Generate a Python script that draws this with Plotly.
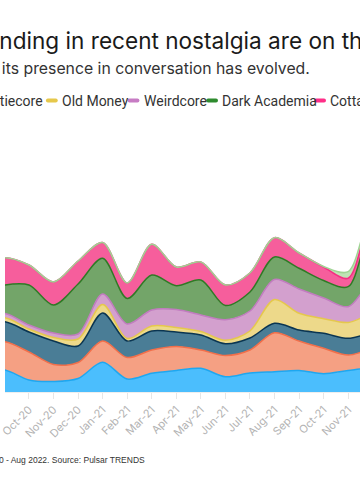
import plotly.graph_objects as go

# ---------------- data ----------------
months = ["Aug-20", "Sep-20", "Oct-20", "Nov-20", "Dec-20", "Jan-21", "Feb-21",
          "Mar-21", "Apr-21", "May-21", "Jun-21", "Jul-21", "Aug-21", "Sep-21",
          "Oct-21", "Nov-21", "Dec-21", "Jan-22"]

series_names = ["Y2K", "Indie Sleaze", "Cutiecore", "Old Money", "Weirdcore",
                "Dark Academia", "Cottagecore", "Light Academia"]

y2k =           [20, 22, 12, 10.5, 13.5, 29.7, 13, 18.7, 21.5, 23.7, 15.3, 19, 20.3, 21.5, 18.3, 21.5, 24, 22]
indie_sleaze =  [26, 28.3, 28, 17, 16, 21.3, 21.5, 23.3, 24, 18.3, 21.2, 23, 38.9, 29.5, 25.4, 15.5, 19, 20]
cutiecore =     [20, 20, 20, 23.5, 16.5, 28, 16.5, 19, 14.5, 15, 11.7, 12, 9.5, 11, 15, 16.7, 16, 16]
old_money =     [4, 4, 3, 3.5, 7, 8.5, 2.5, 5, 4.5, 3.5, 3.5, 7, 23.8, 16.7, 14.6, 15.8, 19, 17]
weirdcore =     [4, 4.4, 4, 4.5, 5, 10.5, 14.5, 16, 18, 16.5, 20.6, 20, 20, 24.3, 20.7, 15.8, 32, 25]
dark_academia = [26, 28.3, 40, 28, 50, 35.7, 25.5, 35, 23.8, 35, 14.2, 19, 22.5, 20.7, 17.5, 20, 54, 35]
cottagecore =   [26, 27.3, 20, 23, 23, 15.8, 15.5, 30.7, 18.7, 18, 20.5, 19, 19.3, 15.3, 13.5, 8.4, 10, 15]
light_academia = [0, 0, 0, 0, 0, 0, 0, 0, 0, 0, 0, 0, 0, 0, 0.5, 6.6, 5, 2]

series_values = [y2k, indie_sleaze, cutiecore, old_money, weirdcore,
                 dark_academia, cottagecore, light_academia]

fill_colors = ["#4BBEFD", "#F5A083", "#4A7D96", "#EDD98A", "#D3A0CE",
               "#73A569", "#F65E9C", "#BFE3B5"]
line_colors = ["#1EA7F0", "#F26F4A", "#0A3552", "#E5C84C", "#C27CC0",
               "#2F7A25", "#F52E83", "#A0D494"]
legend_colors = ["#4BBEFD", "#F26F4A", "#0A3552", "#E6C84B", "#C77CC4",
                 "#2E8B2E", "#FF2E88", "#A0D494"]

title_text = "Aesthetics trending in recent nostalgia are on the rise"
subtitle_text = "See how each aesthetic and its presence in conversation has evolved."
footer_text = "Data: Aug 2020 - Aug 2022. Source: Pulsar TRENDS"

# ---------------- layout helpers ----------------
W, H = 360, 500
TOP, BOTTOM = 120, 392


def px_x(px):
    return px / W


def px_y(py):
    return (BOTTOM - py) / (BOTTOM - TOP)


def pill_path(x0, x1, yc, h):
    """Rounded bar (legend swatch) as an SVG path in paper coordinates."""
    r = h / 2
    pts = [
        ("M", x0 + r, yc - r), ("L", x1 - r, yc - r),
        ("Q", x1, yc - r, x1, yc), ("Q", x1, yc + r, x1 - r, yc + r),
        ("L", x0 + r, yc + r), ("Q", x0, yc + r, x0, yc), ("Q", x0, yc - r, x0 + r, yc - r),
    ]
    out = []
    for p in pts:
        cmd, coords = p[0], p[1:]
        parts = []
        for j in range(0, len(coords), 2):
            parts.append(f"{px_x(coords[j]):.5f},{px_y(coords[j + 1]):.5f}")
        out.append(cmd + " " + " ".join(parts))
    return " ".join(out) + " Z"


x_idx = list(range(len(months)))

fig = go.Figure()
for name, vals, fc, lc in zip(series_names, series_values, fill_colors, line_colors):
    fig.add_trace(go.Scatter(
        x=x_idx, y=vals, name=name, mode="lines", stackgroup="one",
        line=dict(color=lc, width=1.5, shape="spline", smoothing=0.9),
        fillcolor=fc, showlegend=False, hoverinfo="skip"))

FONT = "Inter, Noto Sans, sans-serif"
LEG_FONT = "Roboto, Inter, sans-serif"

annotations = [
    dict(text=title_text, x=px_x(-157), y=px_y(41), xanchor="left", yanchor="middle",
         font=dict(family=FONT, size=22.6, color="#1a1a1a")),
    dict(text=subtitle_text, x=px_x(-223.5), y=px_y(68), xanchor="left", yanchor="middle",
         font=dict(family=FONT, size=15.8, color="#333333")),
    dict(text=footer_text, x=px_x(143.5), y=px_y(460), xanchor="right", yanchor="middle",
         font=dict(family="Liberation Sans, Arial, sans-serif", size=8.5, color="#333333")),
]

# legend (manual, as in the original: short rounded bar followed by the label)
LEG_SIZE = 14
legend_swatch_x = [-250, -170, -60, 41.5, 124.3, 204.0, 313.5, 420]
shapes = []
for i, (name, col, sx) in enumerate(zip(series_names, legend_colors, legend_swatch_x)):
    shapes.append(dict(type="path", xref="paper", yref="paper",
                       path=pill_path(sx, sx + 12, 100.6, 4),
                       fillcolor=col, line=dict(width=0), layer="above"))
    if name == "Cutiecore":
        annotations.append(dict(text=name, x=px_x(legend_swatch_x[i + 1] - 0.8), y=px_y(101.3),
                                xanchor="right", yanchor="middle",
                                font=dict(family=LEG_FONT, size=LEG_SIZE, color="#333333")))
    else:
        annotations.append(dict(text=name, x=px_x(sx + 14.5), y=px_y(101.3),
                                xanchor="left", yanchor="middle",
                                font=dict(family=LEG_FONT, size=LEG_SIZE, color="#333333")))

for a in annotations:
    a.update(xref="paper", yref="paper", showarrow=False)

fig.update_layout(
    width=W, height=H,
    margin=dict(l=0, r=0, t=TOP, b=H - BOTTOM, pad=0),
    paper_bgcolor="white", plot_bgcolor="white",
    showlegend=False,
    annotations=annotations,
    shapes=shapes,
    xaxis=dict(range=[1.024, 15.482], tickmode="array", tickvals=x_idx, ticktext=months,
               tickangle=-45, ticks="outside", ticklen=6, tickcolor="#e6e6e6",
               ticklabeloverflow="allow",
               showline=True, linecolor="#eeeeee", linewidth=1, showgrid=False,
               zeroline=False, fixedrange=True,
               tickfont=dict(family=FONT, size=11, color="#b3b3b3")),
    yaxis=dict(range=[0, BOTTOM - TOP], visible=False, fixedrange=True),
)

fig.write_html("out.html", config={"displayModeBar": False},
               post_script="document.body.style.margin='0';document.body.style.overflow='hidden';")
